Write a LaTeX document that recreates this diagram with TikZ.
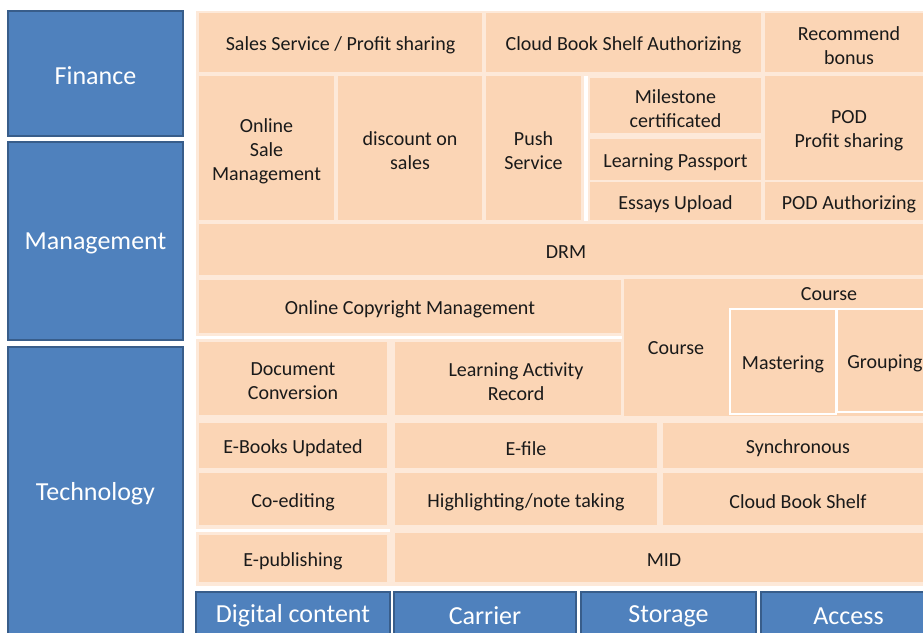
\documentclass[tikz,border=0pt]{standalone}
\usepackage{fontspec}
\setmainfont{Carlito}
\usepackage{tikz}
\definecolor{peach}{HTML}{FBD5B5}
\definecolor{peachlight}{HTML}{FDE9D9}
\definecolor{bluefill}{HTML}{4F81BD}
\definecolor{blueline}{HTML}{385D8A}
\definecolor{textdark}{HTML}{1A1A1A}

\begin{document}
\begin{tikzpicture}[x=1pt,y=-1pt,
  sz/.style 2 args={minimum width=#1pt,minimum height=#2pt},
  box/.style={anchor=north west,inner sep=0pt,outer sep=0pt},
  pbox/.style={box,fill=peach},
  wbox/.style={pbox,draw=white,line width=1.5pt},
  bbox/.style={box,fill=bluefill,draw=blueline,line width=1.5pt},
  ptext/.style={inner sep=0pt,align=center,text=textdark,font=\fontsize{20}{24}\selectfont},
  btext/.style={inner sep=0pt,align=center,text=white,font=\fontsize{26}{30}\selectfont},
  txt/.style={label={[ptext,yshift=-3pt]center:{#1}}},
  btxt/.style={label={[btext,yshift=-2pt]center:{#1}}}]
\useasboundingbox (0,0) rectangle (923,632);
\clip (0,0) rectangle (923,632);
\fill[white] (0,0) rectangle (923,632);
\fill[peachlight] (196,11) rectangle (923,586);
\fill[white] (584,76) rectangle (588,221);
\fill[white] (196,336) rectangle (622,339);
\fill[white] (196,529) rectangle (390,532);

\node[bbox,sz={175}{125},btxt=Finance] (fin) at (8,11) {};
\node[bbox,sz={175}{198},btxt=Management] (mgmt) at (8,142) {};
\node[bbox,sz={175}{289},btxt=Technology] (tech) at (8,347) {};
\node[bbox,sz={194}{44},btxt=Digital content] (digital) at (196,592) {};
\node[bbox,sz={182}{44},btxt=Carrier] (carrier) at (394,592) {};
\node[bbox,sz={175}{44},btxt=Storage] (storage) at (581,592) {};
\node[bbox,sz={175}{44},btxt=Access] (access) at (761,592) {};

\node[pbox,sz={283}{59},txt=Sales Service / Profit sharing] (sales) at (199,13) {};
\node[pbox,sz={275}{59},txt=Cloud Book Shelf Authorizing] (cbsauth) at (486,13) {};
\node[pbox,sz={168}{59},txt=Recommend\\bonus] (recommend) at (765,13) {};
\node[pbox,sz={135}{144},txt=Online\\Sale\\Management] (osm) at (199,76) {};
\node[pbox,sz={144}{144},txt=discount on\\sales] (discount) at (338,76) {};
\node[pbox,sz={95}{144},txt=Push\\Service] (push) at (486,76) {};
\node[pbox,sz={171}{55},txt=Milestone\\certificated] (milestone) at (590,78) {};
\node[pbox,sz={171}{41},txt=Learning Passport] (passport) at (590,139) {};
\node[pbox,sz={171}{38},txt=Essays Upload] (essays) at (590,182) {};
\node[pbox,sz={168}{104},txt=POD\\Profit sharing] (pod) at (765,76) {};
\node[pbox,sz={168}{38},txt=POD Authorizing] (podauth) at (765,182) {};
\node[pbox,sz={734}{51},txt=DRM] (drm) at (199,224) {};
\node[pbox,sz={422}{53},txt=Online Copyright Management] (ocm) at (199,280) {};
\node[pbox,sz={309}{137}] (course) at (624,279) {};
\node[ptext] (coursemain) at (676,348) {Course};
\node[ptext] (coursetop) at (829,294) {Course};
\node[wbox,sz={106}{105},txt=Mastering] (mastering) at (730,309) {};
\node[wbox,sz={96}{103},txt=Grouping] (grouping) at (837,309) {};
\node[pbox,sz={188}{73},txt=Document\\Conversion] (docconv) at (199,342) {};
\node[pbox,sz={226}{73},txt=\hspace*{16pt}Learning Activity\\\hspace*{16pt}Record] (activity) at (395,342) {};
\node[pbox,sz={188}{45},txt=E-Books Updated] (ebooks) at (199,423) {};
\node[pbox,sz={262}{45},txt=E-file] (efile) at (395,423) {};
\node[pbox,sz={270}{45},txt=Synchronous] (sync) at (663,423) {};
\node[pbox,sz={188}{52},txt=Co-editing] (coedit) at (199,473) {};
\node[pbox,sz={262}{52},txt=Highlighting/note taking] (highlight) at (395,473) {};
\node[pbox,sz={270}{52},txt=Cloud Book Shelf] (cbshelf) at (663,473) {};
\node[pbox,sz={188}{47},txt=E-publishing] (epub) at (199,535) {};
\node[pbox,sz={538}{49},txt=MID] (mid) at (395,533) {};
\end{tikzpicture}
\end{document}
